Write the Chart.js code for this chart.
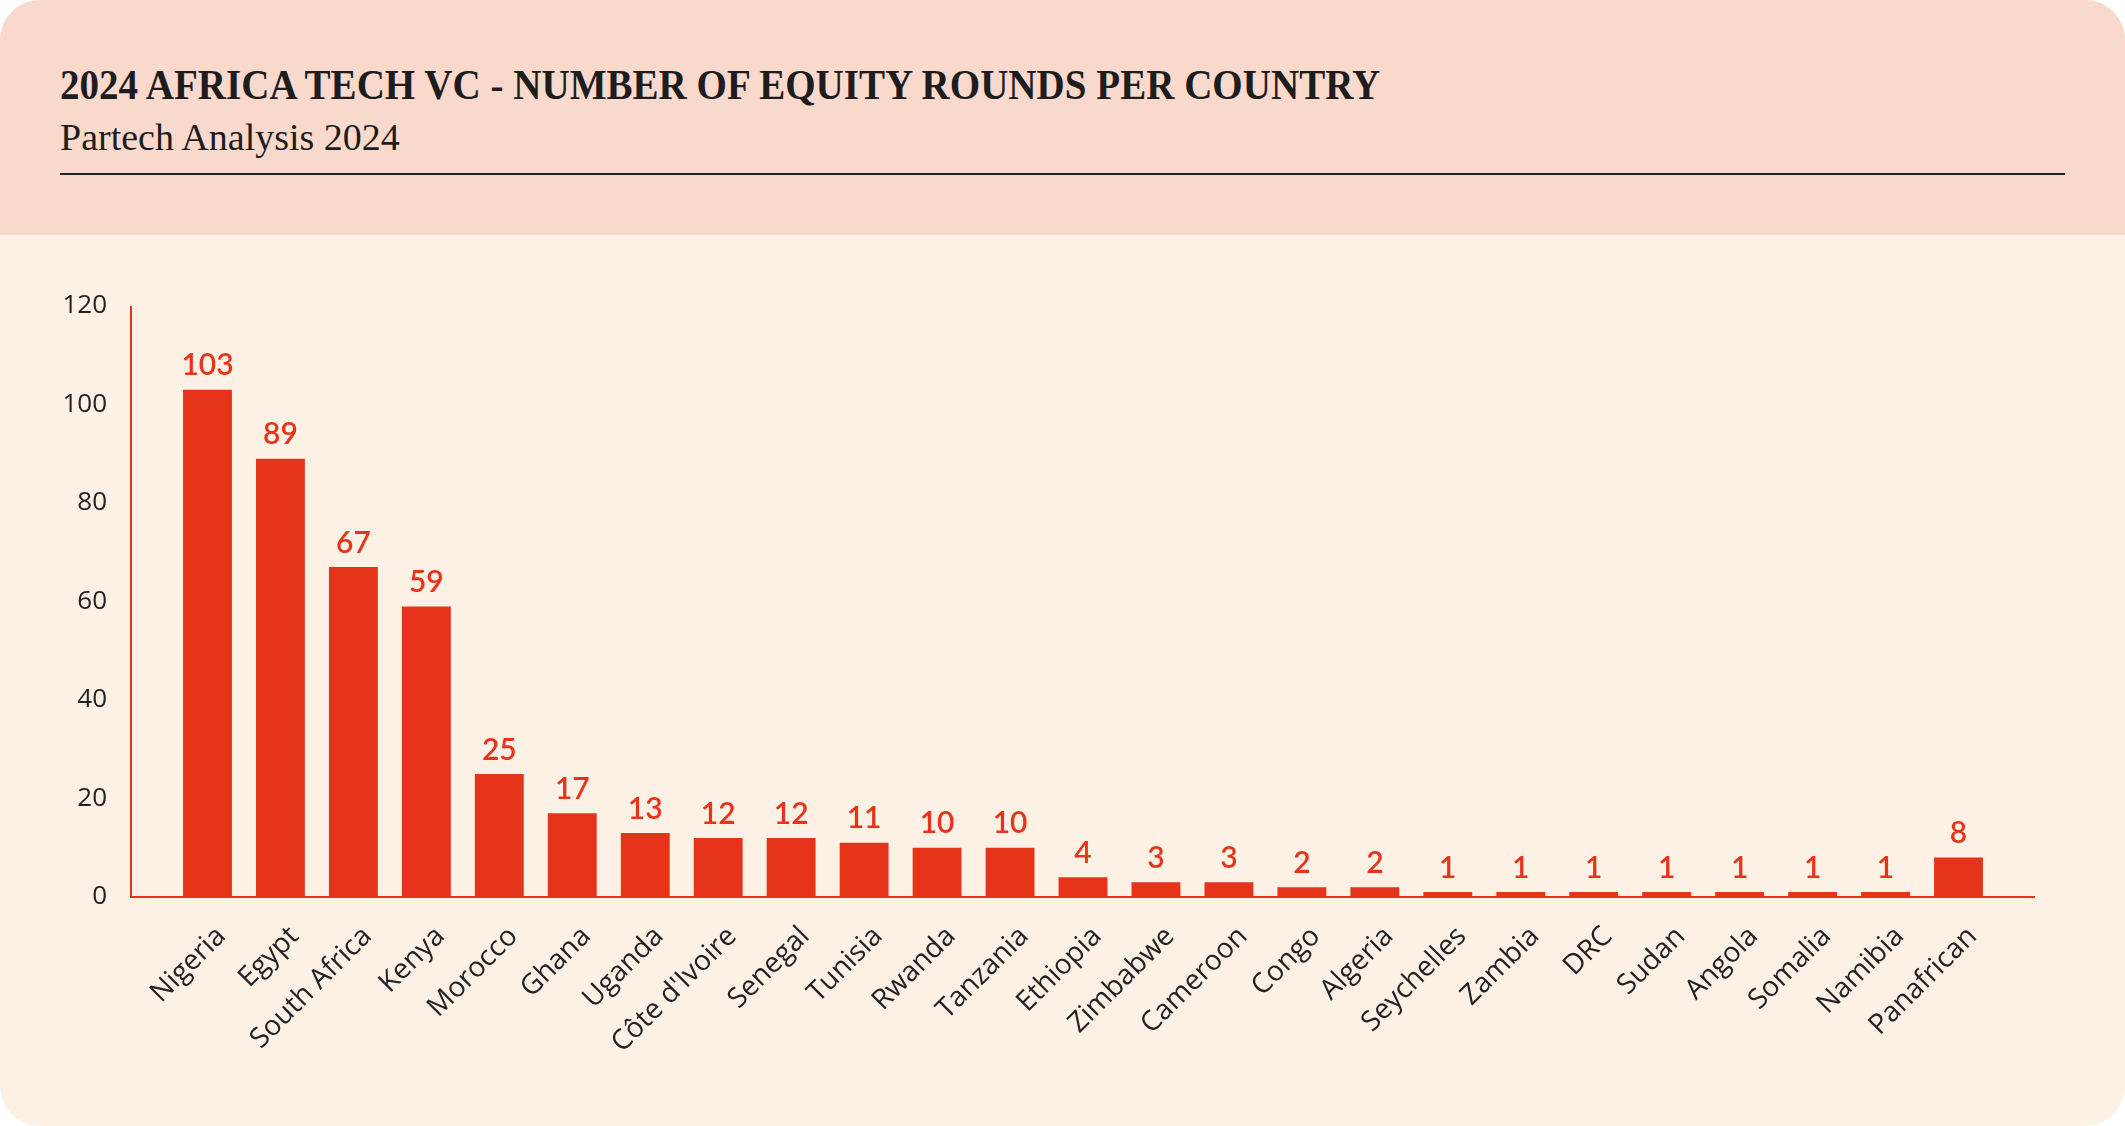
<!DOCTYPE html>
<html>
<head>
<meta charset="utf-8">
<script src="https://cdn.jsdelivr.net/npm/chart.js@4"></script>
<style>
  html, body { margin: 0; padding: 0; background: #ffffff; }
  #card {
    position: absolute; left: 0; top: 0; width: 2125px; height: 1126px;
    border-radius: 40px; overflow: hidden; background: #fdf0e5;
  }
  #head {
    position: absolute; left: 0; top: 0; width: 2125px; height: 235px;
    background: #fad9cd;
  }
  #title {
    position: absolute; left: 60px; top: 64px; white-space: nowrap;
    font-family: "Liberation Serif", serif; font-weight: bold;
    font-size: 42px; line-height: 42px; color: #1d1d1d;
    transform-origin: left center; transform: scaleX(0.93);
  }
  #sub {
    position: absolute; left: 60px; top: 118px; white-space: nowrap;
    font-family: "Liberation Serif", serif; font-size: 38px; line-height: 38px;
    color: #1d1d1d;
  }
  #rule {
    position: absolute; left: 60px; top: 173px; width: 2005px; height: 2px;
    background: #222;
  }
  #wrap { position: absolute; left: 0; top: 235px; width: 2125px; height: 891px; }
</style>
</head>
<body>
<div id="card">
  <div id="head">
    <div id="title">2024 AFRICA TECH VC - NUMBER OF EQUITY ROUNDS PER COUNTRY</div>
    <div id="sub">Partech Analysis 2024</div>
    <div id="rule"></div>
  </div>
  <div id="wrap"><canvas id="chart" width="2125" height="891"></canvas></div>
</div>
<script>
// chart data
var countries = ['Nigeria', 'Egypt', 'South Africa', 'Kenya', 'Morocco', 'Ghana', 'Uganda',
  'Côte d\'Ivoire', 'Senegal', 'Tunisia', 'Rwanda', 'Tanzania', 'Ethiopia', 'Zimbabwe',
  'Cameroon', 'Congo', 'Algeria', 'Seychelles', 'Zambia', 'DRC', 'Sudan', 'Angola',
  'Somalia', 'Namibia', 'Panafrican'];
var rounds = [103, 89, 67, 59, 25, 17, 13, 12, 12, 11, 10, 10, 4, 3, 3, 2, 2, 1, 1, 1, 1, 1, 1, 1, 8];
var yTicks = [0, 20, 40, 60, 80, 100, 120];

var RED = '#e5341a';
var SANS = '"Open Sans", Lato, sans-serif';

// axis lines stick out past the bars, and value labels sit on top
var decor = {
  id: 'decor',
  afterDatasetsDraw: function (chart) {
    var c = chart.ctx, a = chart.chartArea;
    var y = chart.scales.y;
    var left = a.left - 40, right = a.right + 40;
    c.save();
    c.strokeStyle = RED;
    c.lineWidth = 2;
    c.beginPath();
    c.moveTo(left, y.getPixelForValue(120));
    c.lineTo(left, a.bottom);
    c.lineTo(right, a.bottom);
    c.stroke();

    c.fillStyle = RED;
    c.font = '600 30px Lato, sans-serif';
    c.textAlign = 'center';
    c.textBaseline = 'bottom';
    chart.getDatasetMeta(0).data.forEach(function (bar, i) {
      c.fillText(rounds[i], bar.x, bar.y - 9);
    });
    c.restore();
  }
};

new Chart(document.getElementById('chart'), {
  type: 'bar',
  data: {
    labels: countries,
    datasets: [{
      data: rounds,
      backgroundColor: RED,
      borderWidth: 0,
      categoryPercentage: 1,
      barPercentage: 0.67
    }]
  },
  options: {
    responsive: false,
    animation: false,
    devicePixelRatio: 1,
    layout: { padding: { top: 71, right: 130, bottom: 0, left: 0 } },
    plugins: { legend: { display: false }, tooltip: { enabled: false } },
    scales: {
      x: {
        grid: { display: false, drawTicks: false },
        border: { display: false },
        ticks: {
          autoSkip: false, minRotation: 45, maxRotation: 45, padding: 23, labelOffset: 14,
          color: '#222', font: { family: SANS, size: 28 }
        },
        afterFit: function (s) { s.height = 229; }
      },
      y: {
        min: 0, max: 120,
        grid: { display: false, drawTicks: false },
        border: { display: false },
        afterBuildTicks: function (s) { s.ticks = yTicks.map(function (v) { return { value: v }; }); },
        ticks: {
          padding: 64, color: '#222', font: { family: SANS, size: 26 }
        },
        afterFit: function (s) {
          s.width = 171;
          // the big label padding should not push the plot down
          s.paddingTop = 16;
          s.paddingBottom = 16;
        }
      }
    }
  },
  plugins: [decor]
});
</script>
</body>
</html>
